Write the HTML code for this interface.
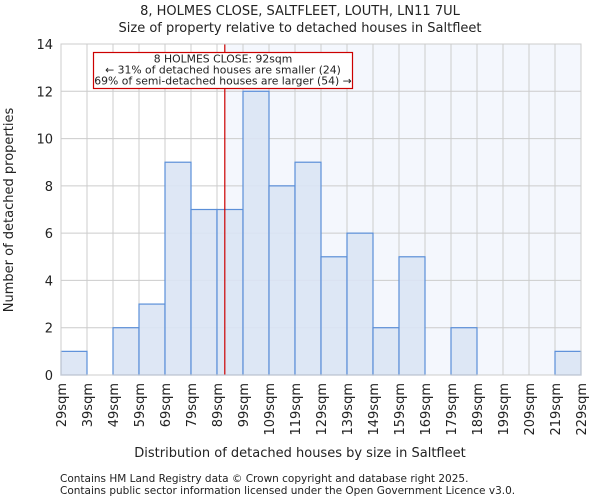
<!DOCTYPE html>
<html><head><meta charset="utf-8"><style>
body{margin:0;background:#fff;font-family:"DejaVu Sans","Liberation Sans",sans-serif;}
svg text{font-family:"DejaVu Sans","Liberation Sans",sans-serif;fill:#222;}
</style></head><body>
<svg id="c" width="600" height="500"></svg>
<script>
const categories=["29sqm","39sqm","49sqm","59sqm","69sqm","79sqm","89sqm","99sqm","109sqm","119sqm","129sqm","139sqm","149sqm","159sqm","169sqm","179sqm","189sqm","199sqm","209sqm","219sqm","229sqm"];
const binStarts=[29,39,49,59,69,79,89,99,109,119,129,139,149,159,169,179,189,199,209,219];
const counts=[1,0,2,3,9,7,7,12,8,9,5,6,2,5,0,2,0,0,0,1];
const yTicks=[0,2,4,6,8,10,12,14];
const propertySize=92;
const L=61,R=581,T=44,B=375,xMin=29,xMax=229,yMax=14;
const xs=v=>L+(v-xMin)/(xMax-xMin)*(R-L);
const ys=v=>B-v/yMax*(B-T);
const svg=document.getElementById('c');
const NS='http://www.w3.org/2000/svg';
function mk(t,a,txt){const e=document.createElementNS(NS,t);for(const k in a)e.setAttribute(k,a[k]);if(txt!==undefined)e.textContent=txt;svg.appendChild(e);return e;}
let e;
e=mk('rect',{x:xs(propertySize),y:T,width:R-xs(propertySize),height:B-T,fill:'#f4f7fd'});


categories.forEach((c,i)=>{const x=xs(xMin+i*10);
e=mk('line',{x1:x,x2:x,y1:T,y2:B,stroke:'#cccccc','stroke-width':1});


e=mk('text',{transform:`translate(${x+5},${B+8}) rotate(-90)`,'text-anchor':'end','font-size':13},c);

});
yTicks.forEach(v=>{const y=ys(v);
e=mk('line',{x1:L,x2:R,y1:y,y2:y,stroke:'#cccccc','stroke-width':1});


e=mk('text',{x:L-8,y:y+5,'text-anchor':'end','font-size':13},v);

});
counts.forEach((v,i)=>{if(v<=0)return;const x0=xs(binStarts[i]),x1=xs(binStarts[i]+10);
e=mk('rect',{x:x0,y:ys(v),width:x1-x0,height:B-ys(v),fill:'#dae4f4','fill-opacity':0.9,stroke:'#5b8fd8','stroke-width':1.2});

});
e=mk('line',{x1:xs(propertySize),x2:xs(propertySize),y1:T,y2:B,stroke:'#cc0000','stroke-width':1.2});


e=mk('rect',{x:L,y:T,width:R-L,height:B-T,fill:'none',stroke:'#cccccc'});


e=mk('rect',{x:93.5,y:52.5,width:259,height:36,fill:'#fff',stroke:'#cc0000','stroke-width':1.2});


[["8 HOLMES CLOSE: 92sqm",62.5],["← 31% of detached houses are smaller (24)",73.5],["69% of semi-detached houses are larger (54) →",84.5]].forEach(([t,y])=>{
e=mk('text',{x:223,y:y,'text-anchor':'middle','font-size':10.8},t);

});
e=mk('text',{x:300,y:15,'text-anchor':'middle','font-size':13},"8, HOLMES CLOSE, SALTFLEET, LOUTH, LN11 7UL");


e=mk('text',{x:300,y:32,'text-anchor':'middle','font-size':13},"Size of property relative to detached houses in Saltfleet");


e=mk('text',{x:300,y:457,'text-anchor':'middle','font-size':13},"Distribution of detached houses by size in Saltfleet");


e=mk('text',{transform:'translate(13,210) rotate(-90)','text-anchor':'middle','font-size':13},"Number of detached properties");


e=mk('text',{x:60,y:482,'font-size':10.5},"Contains HM Land Registry data © Crown copyright and database right 2025.");


e=mk('text',{x:60,y:494,'font-size':10.5},"Contains public sector information licensed under the Open Government Licence v3.0.");


</script>
</body></html>
